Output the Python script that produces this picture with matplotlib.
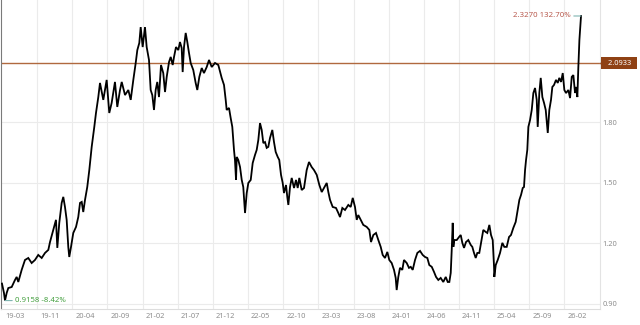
import matplotlib
matplotlib.use("Agg")
import matplotlib.pyplot as plt
import matplotlib.transforms as mtransforms
import numpy as np

# time axis in months from the first point (label "19-03")
months = [
    0.00, 0.28, 0.43, 0.67, 0.90, 1.38, 1.85, 2.09, 2.32, 2.80, 3.27, 3.74, 4.22, 4.69,
    5.16, 5.65, 6.12, 6.59, 6.83, 7.30, 7.68, 7.87, 8.15, 8.49, 8.72, 8.96, 9.20, 9.43,
    9.57, 9.82, 10.14, 10.53, 10.85, 11.10, 11.34, 11.56, 11.81, 12.13, 12.42, 12.76,
    13.13, 13.37, 13.70,
    13.94, 14.41, 14.89, 15.26, 15.60, 16.07, 16.40, 16.79, 17.03, 17.50, 17.97, 18.31,
    18.68, 19.02, 19.25, 19.53, 19.73, 20.01, 20.34, 20.58, 20.91, 21.15, 21.38, 21.62,
    21.86, 22.09, 22.33, 22.62, 22.94, 23.19, 23.43, 23.76, 24.00, 24.28, 24.47, 24.75,
    25.08, 25.32, 25.56, 25.70, 25.89, 26.13, 26.36, 26.60, 26.84, 27.21, 27.55, 27.78,
    28.07, 28.41, 28.73, 29.12, 29.45,
    29.83, 30.30, 30.77, 31.25, 31.58, 31.82, 31.96, 32.29, 32.53, 32.76, 33.00, 33.14,
    33.29, 33.39, 33.61, 33.86, 34.10, 34.32, 34.57, 34.81, 35.04, 35.38, 35.66, 35.99,
    36.23, 36.46, 36.70, 36.94, 37.17, 37.41, 37.65, 37.88, 38.12, 38.45, 38.69, 38.93,
    39.22, 39.44, 39.69, 39.93, 40.11, 40.40, 40.58, 40.73, 40.97, 41.21, 41.54, 41.82,
    42.06, 42.29, 42.63, 42.96, 43.34, 43.67, 44.05, 44.38, 44.77, 45.14, 45.48, 45.80,
    46.19, 46.42,
    46.66, 47.04, 47.51, 47.84, 48.08, 48.41, 48.79, 49.26, 49.60, 49.89, 50.21, 50.46,
    50.68, 51.02, 51.39, 51.88, 52.25, 52.49, 52.82, 53.20, 53.53, 53.87, 54.15, 54.48,
    54.81, 55.09, 55.43, 55.76, 56.00, 56.14, 56.37, 56.61, 56.94, 57.18, 57.57, 57.89,
    58.14, 58.42, 58.75, 59.08, 59.46, 59.84, 60.17, 60.50, 60.78, 61.13, 61.45, 61.74,
    62.06, 62.40, 62.77, 63.12, 63.40, 63.63,
    63.83, 63.97, 64.11, 64.20, 64.34, 64.68, 65.01, 65.25, 65.48, 65.72, 66.00, 66.33,
    66.67, 66.90, 67.14, 67.38, 67.61, 67.89, 68.14, 68.46, 68.81, 69.03, 69.32, 69.56,
    69.80, 69.99, 70.03, 70.23, 70.51, 70.84, 71.17, 71.45, 71.79, 72.12, 72.40, 72.73,
    73.07, 73.36, 73.59, 73.83, 74.07, 74.25, 74.40, 74.54,
    74.72, 74.87, 75.11, 75.35, 75.58, 75.82, 76.06, 76.20, 76.43, 76.63, 76.86, 77.10,
    77.34, 77.63, 77.85, 78.09, 78.28, 78.52, 78.80, 79.05, 79.27, 79.52, 79.76, 79.99,
    80.23, 80.56, 80.80, 81.04, 81.27, 81.51, 81.66, 81.84, 81.98, 82.13, 82.32, 82.36,
]

nav = [
    1.000, 0.954, 0.9158, 0.954, 0.978, 0.983, 1.018, 1.033, 1.008, 1.068, 1.117, 1.127, 1.102, 1.117,
    1.142, 1.127, 1.152, 1.167, 1.206, 1.266, 1.316, 1.177, 1.301, 1.400, 1.430, 1.380, 1.316, 1.182,
    1.132, 1.182, 1.251, 1.281, 1.330, 1.400, 1.405, 1.355, 1.415, 1.479, 1.563, 1.678,
    1.777, 1.846, 1.925,
    1.995, 1.911, 2.010, 1.846, 1.896, 2.000, 1.876, 1.960, 2.000, 1.935, 1.960, 1.911,
    2.010, 2.094, 2.158, 2.193, 2.272, 2.173, 2.272, 2.173, 2.109, 1.960, 1.935, 1.861,
    1.960, 2.000, 1.925, 2.084, 2.044, 1.950, 2.025, 2.099, 2.124, 2.084, 2.124, 2.173,
    2.158, 2.198, 2.168, 2.049, 2.173, 2.243, 2.198, 2.144, 2.094, 2.059, 1.995, 1.960,
    2.025, 2.069, 2.044, 2.074, 2.109,
    2.074, 2.094, 2.084, 2.020, 1.985, 1.911, 1.861, 1.871, 1.821, 1.777, 1.663, 1.613,
    1.514, 1.628, 1.613, 1.578, 1.514, 1.479, 1.350, 1.449, 1.499, 1.514, 1.598, 1.638,
    1.663, 1.712, 1.796, 1.762, 1.697, 1.702, 1.673, 1.678, 1.722, 1.762, 1.702, 1.653,
    1.628, 1.613, 1.539, 1.499, 1.449, 1.489, 1.430, 1.390, 1.479, 1.524, 1.474, 1.514,
    1.474, 1.524, 1.464, 1.474, 1.563, 1.603, 1.578, 1.563, 1.539, 1.489, 1.454, 1.474,
    1.499, 1.454,
    1.415, 1.380, 1.375, 1.350, 1.330, 1.375, 1.365, 1.390, 1.380, 1.425, 1.380, 1.316,
    1.340, 1.316, 1.291, 1.281, 1.266, 1.206, 1.241, 1.251, 1.216, 1.182, 1.142, 1.127,
    1.157, 1.117, 1.102, 1.068, 1.028, 0.968, 1.033, 1.078, 1.068, 1.117, 1.102, 1.078,
    1.083, 1.068, 1.117, 1.152, 1.162, 1.142, 1.132, 1.127, 1.092, 1.083, 1.058, 1.033,
    1.018, 1.028, 1.008, 1.033, 1.008, 1.008,
    1.053, 1.167, 1.301, 1.182, 1.216, 1.216, 1.231, 1.241, 1.202, 1.177, 1.206, 1.216,
    1.192, 1.182, 1.152, 1.127, 1.152, 1.152, 1.202, 1.266, 1.256, 1.251, 1.291, 1.241,
    1.216, 1.083, 1.033, 1.092, 1.117, 1.152, 1.202, 1.182, 1.182, 1.231, 1.241, 1.276,
    1.306, 1.365, 1.415, 1.440, 1.474, 1.479, 1.563, 1.613,
    1.663, 1.777, 1.811, 1.861, 1.945, 1.970, 1.911, 1.777, 1.945, 2.020, 1.925, 1.896,
    1.861, 1.747, 1.861, 1.911, 1.975, 1.985, 2.010, 1.995, 2.020, 2.000, 2.044, 1.960,
    1.945, 1.960, 1.920, 2.025, 2.034, 1.945, 1.975, 1.925, 2.074, 2.208, 2.307, 2.327,
]

tick_months = [0, 5, 10, 15, 20, 25, 30, 35, 40, 45, 50, 55, 60, 65, 70, 75, 80]
tick_labels = ["19-03", "19-11", "20-04", "20-09", "21-02", "21-07", "21-12", "22-05",
               "22-10", "23-03", "23-08", "24-01", "24-06", "24-11", "25-04", "25-09", "26-02"]
y_ticks = [0.90, 1.20, 1.50, 1.80]
REF_VALUE = 2.0933

GRID = "#ebebeb"
TXT = "#8e8e8e"
REF_LINE = "#b0693f"
REF_TAG = "#8f4114"
MAX_TXT = "#b85a4e"
MIN_TXT = "#45a040"
LEAD = "#7fb3b0"

plt.rcParams["font.family"] = ["Noto Sans", "DejaVu Sans"]

fig = plt.figure(figsize=(6.4, 3.25), dpi=100)
ax = fig.add_axes([1 / 640, 16 / 325, 599 / 640, 309 / 325])

ax.plot(months, nav, color="black", lw=1.3, solid_joinstyle="miter", zorder=3)

ax.set_xlim(-0.14, 85.06)
ax.set_ylim(0.874, 2.4063)

# grid
for m in tick_months[1:]:
    ax.axvline(m, color=GRID, lw=0.8, zorder=0)
for y in y_ticks:
    ax.axhline(y, color=GRID, lw=0.8, zorder=0)
ax.axhline(REF_VALUE, color=REF_LINE, lw=1.0, zorder=2)

# spines
ax.spines["top"].set_visible(False)
ax.spines["left"].set_color("#7a7a7a")
ax.spines["left"].set_linewidth(0.8)
ax.spines["bottom"].set_color("#dddddd")
ax.spines["right"].set_color("#e3e3e3")
ax.spines["bottom"].set_linewidth(0.8)
ax.spines["right"].set_linewidth(0.8)

# x ticks: left aligned just right of each gridline
ax.set_xticks(tick_months)
ax.set_xticklabels(tick_labels, fontsize=5.4, color=TXT)
ax.tick_params(axis="x", length=0, pad=3.2)
shift = mtransforms.ScaledTranslation(3 / 100, 0, fig.dpi_scale_trans)
for lbl in ax.get_xticklabels():
    lbl.set_horizontalalignment("left")
    lbl.set_transform(lbl.get_transform() + shift)

# y ticks on the right
ax.yaxis.tick_right()
ax.set_yticks(y_ticks)
ax.set_yticklabels([f"{v:.2f}" for v in y_ticks], fontsize=5.4, color=TXT)
ax.tick_params(axis="y", length=0, pad=2)

# reference tag on the right
blend = mtransforms.blended_transform_factory(ax.transAxes, ax.transData)
ax.plot([1.0045], [REF_VALUE], marker="<", ms=4, color=REF_TAG, mec=REF_TAG,
        transform=blend, clip_on=False, zorder=4)
ax.text(1.006, REF_VALUE, f"  {REF_VALUE:.4f}  ", transform=blend, fontsize=5.4,
        color="white", ha="left", va="center", clip_on=False,
        bbox=dict(boxstyle="square,pad=0.32", fc=REF_TAG, ec="none"))

# max / min labels
arr = np.array(nav)
i_max, i_min = int(arr.argmax()), int(arr.argmin())
base = nav[0]
ax.annotate(f"{nav[i_max]:.4f} {(nav[i_max] / base - 1) * 100:.2f}%",
            xy=(months[i_max], nav[i_max]), xytext=(-10, 0), textcoords="offset pixels",
            ha="right", va="center", fontsize=5.6, color=MAX_TXT,
            arrowprops=dict(arrowstyle="-", color=LEAD, lw=0.8, shrinkA=0, shrinkB=0))
ax.annotate(f"{nav[i_min]:.4f} {(nav[i_min] / base - 1) * 100:.2f}%",
            xy=(months[i_min], nav[i_min]), xytext=(10, 0), textcoords="offset pixels",
            ha="left", va="center", fontsize=5.6, color=MIN_TXT,
            arrowprops=dict(arrowstyle="-", color=LEAD, lw=0.8, shrinkA=0, shrinkB=0))

fig.savefig("out.png", dpi=100)
